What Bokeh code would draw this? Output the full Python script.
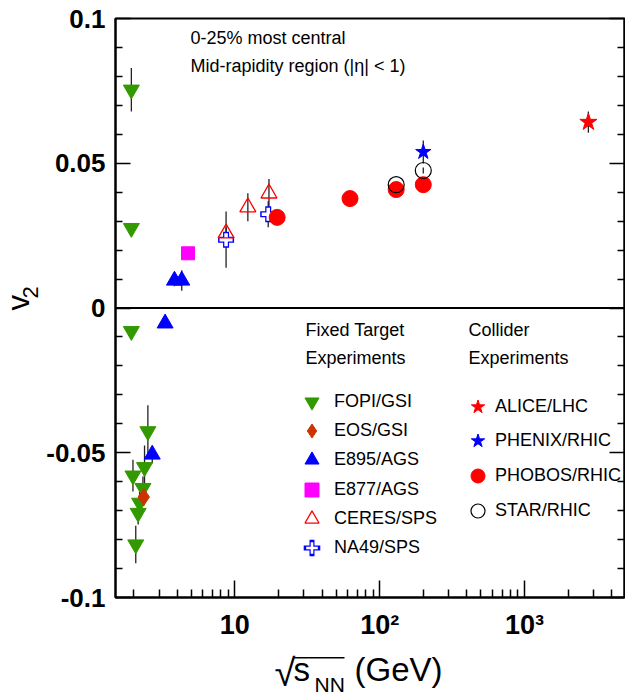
import math
from bokeh.plotting import figure
from bokeh.layouts import row, column
from bokeh.models import (Range1d, LinearAxis, FixedTicker, Span, Label, Legend,
                          LegendItem, BoxAnnotation, CustomLabelingPolicy)
from bokeh.embed import file_html
from bokeh.resources import INLINE

# ---------------- data ----------------
fopi_x = [1.93, 1.93, 1.93, 2.51, 1.98, 2.38, 2.32, 2.20, 2.15, 2.07]
fopi_y = [0.0754, 0.0276, -0.0080, -0.0426, -0.0579, -0.0550, -0.0622, -0.0673, -0.0708, -0.0817]
fopi_e = [0.0075, 0.0010, 0.0010, 0.0090, 0.0055, 0.0075, 0.0040, 0.0040, 0.0040, 0.0065]

eos_x = [2.35]
eos_y = [-0.0653]
eos_e = [0.0030]

e895_x = [2.69, 3.30, 3.83, 4.30]
e895_y = [-0.0506, -0.0053, 0.0095, 0.0095]
e895_e = [0.0030, 0.0015, 0.0020, 0.0035]

e877_x = [4.75]
e877_y = [0.0189]
e877_e = [0.0010]

ceres_x = [8.7, 12.3, 17.2]
ceres_y = [0.0258, 0.0348, 0.0396]
ceres_e = [0.0020, 0.0048, 0.0050]

na49_x = [8.7, 17.0]
na49_y = [0.0236, 0.0324]
na49_e = [0.0097, 0.0045]

phobos_x = [19.6, 62.4, 130.0, 200.0]
phobos_y = [0.0313, 0.0378, 0.0409, 0.0426]
phobos_e = [0.0020, 0.0015, 0.0015, 0.0015]

star_x = [130.0, 200.0]
star_y = [0.0426, 0.0475]
star_e = [0.0010, 0.0010]

phenix_x = [200.0]
phenix_y = [0.0539]
phenix_e = [0.0040]

alice_x = [2760.0]
alice_y = [0.0642]
alice_e = [0.0037]

x_major = [10, 100, 1000]
x_minor = [2, 3, 4, 5, 6, 7, 8, 9, 20, 30, 40, 50, 60, 70, 80, 90,
           200, 300, 400, 500, 600, 700, 800, 900, 2000, 3000, 4000]
x_labels = ["10", "10\u00b2", "10\u00b3"]
y_major = [-0.1, -0.05, 0.0, 0.05, 0.1]
y_minor = [-0.09, -0.08, -0.07, -0.06, -0.04, -0.03, -0.02, -0.01,
           0.01, 0.02, 0.03, 0.04, 0.06, 0.07, 0.08, 0.09]
y_labels = ["-0.1", "-0.05", "0", "0.05", "0.1"]

fixed_names = ["FOPI/GSI", "EOS/GSI", "E895/AGS", "E877/AGS", "CERES/SPS", "NA49/SPS"]
collider_names = ["ALICE/LHC", "PHENIX/RHIC", "PHOBOS/RHIC", "STAR/RHIC"]

GREEN = "#339900"
EOSC = "#cc3300"
FONT = "Liberation Sans"

# ---------------- main figure ----------------
p = figure(width=582, height=648, x_axis_type="log",
           x_range=Range1d(1.5, 4900), y_range=Range1d(-0.1, 0.1),
           output_backend="svg", toolbar_location=None,
           min_border_left=70, min_border_right=1,
           min_border_top=18, min_border_bottom=51)
p.background_fill_color = "white"
p.border_fill_color = "white"
p.outline_line_color = "black"
p.outline_line_width = 2
p.xgrid.visible = False
p.ygrid.visible = False

xa = p.xaxis[0]
xa.ticker = FixedTicker(ticks=x_major, minor_ticks=x_minor)
xa.major_label_overrides = {float(t): l for t, l in zip(x_major, x_labels)}
xa.major_tick_in = 17
xa.major_tick_out = 0
xa.minor_tick_in = 8
xa.minor_tick_out = 0
xa.major_tick_line_width = 1.5
xa.minor_tick_line_width = 1.5
xa.axis_line_width = 2
xa.major_label_text_font = FONT
xa.major_label_text_font_style = "bold"
xa.major_label_text_font_size = "27px"
xa.major_label_text_color = "black"
xa.major_label_standoff = 12

ya = p.yaxis[0]
ya.ticker = FixedTicker(ticks=y_major, minor_ticks=y_minor)
ya.major_label_overrides = {t: l for t, l in zip(y_major, y_labels)}
ya.major_tick_in = 15
ya.major_tick_out = 0
ya.minor_tick_in = 7
ya.minor_tick_out = 0
ya.major_tick_line_width = 1.5
ya.minor_tick_line_width = 1.5
ya.axis_line_width = 2
ya.major_label_text_font = FONT
ya.major_label_text_font_style = "bold"
ya.major_label_text_font_size = "26px"
ya.major_label_text_color = "black"
ya.major_label_standoff = 10

# mirrored ticks on the right side, without labels
ra = LinearAxis(ticker=FixedTicker(ticks=y_major, minor_ticks=y_minor),
                major_tick_in=15, major_tick_out=0, minor_tick_in=7, minor_tick_out=0,
                major_tick_line_width=1.5, minor_tick_line_width=1.5,
                axis_line_width=2, major_label_text_font_size="0px",
                major_label_standoff=0,
                major_label_policy=CustomLabelingPolicy(
                    code="for (const i of indices) indices.unset(i)"))
p.add_layout(ra, "right")

p.add_layout(Span(location=0, dimension="width", line_color="black", line_width=2))


def errbars(xs, ys, es):
    p.segment(x0=xs, y0=[y - e for y, e in zip(ys, es)],
              x1=xs, y1=[y + e for y, e in zip(ys, es)],
              line_color="#222222", line_width=1.3)


for xs, ys, es in [(fopi_x, fopi_y, fopi_e), (eos_x, eos_y, eos_e), (e895_x, e895_y, e895_e),
                   (e877_x, e877_y, e877_e), (ceres_x, ceres_y, ceres_e), (na49_x, na49_y, na49_e),
                   (phobos_x, phobos_y, phobos_e), (star_x, star_y, star_e),
                   (phenix_x, phenix_y, phenix_e), (alice_x, alice_y, alice_e)]:
    errbars(xs, ys, es)

r_fopi = p.scatter(fopi_x, fopi_y, marker="inverted_triangle", size=16,
                   fill_color=GREEN, line_color=GREEN)
r_eos = p.scatter(eos_x, eos_y, marker="diamond", size=17, fill_color=EOSC, line_color=EOSC)
r_e895 = p.scatter(e895_x, e895_y, marker="triangle", size=16, fill_color="blue", line_color="blue")
r_e877 = p.scatter(e877_x, e877_y, marker="square", size=13, fill_color="#ff00ff", line_color="#ff00ff")
p.scatter(na49_x, na49_y, marker="cross", size=16, line_color="blue", line_width=6)
p.scatter(na49_x, na49_y, marker="cross", size=13, line_color="white", line_width=3.5)
# legend-only glyphs for the open cross (not drawn in the plot: NaN position)
nan_pt = [math.nan]
r_na49a = p.scatter(nan_pt, nan_pt, marker="cross", size=10, line_color="blue", line_width=5,
                    line_cap="square")
r_na49b = p.scatter(nan_pt, nan_pt, marker="cross", size=10, line_color="white", line_width=2.6,
                    line_cap="butt")
r_ceres = p.scatter(ceres_x, ceres_y, marker="triangle", size=16, fill_color=None,
                    line_color="red", line_width=1.3)
r_phobos = p.scatter(phobos_x, phobos_y, marker="circle", size=16, fill_color="red", line_color="red")
r_star = p.scatter(star_x, star_y, marker="circle", size=16, fill_color=None,
                   line_color="black", line_width=1.2)
r_phenix = p.scatter(phenix_x, phenix_y, marker="star", size=16, fill_color="blue", line_color="blue")
r_alice = p.scatter(alice_x, alice_y, marker="star", size=18, fill_color="red", line_color="red")

leg_common = dict(orientation="vertical", padding=0, margin=0,
                  border_line_alpha=0, background_fill_alpha=0,
                  label_text_font=FONT, label_text_font_size="18px", label_text_color="black")

fixed_rs = [[r_fopi], [r_eos], [r_e895], [r_e877], [r_ceres], [r_na49a, r_na49b]]
collider_rs = [[r_alice], [r_phenix], [r_phobos], [r_star]]

for i, (name, rs) in enumerate(zip(fixed_names, fixed_rs)):
    gl = 29 if i == 5 else 35
    d = (35 - gl) // 2
    p.add_layout(Legend(items=[LegendItem(label=name, renderers=rs)],
                        location=(179 + d, 177.8 - 29.1 * i + d),
                        label_standoff=5 + d, glyph_width=gl, glyph_height=gl,
                        label_height=gl, **leg_common))
for i, (name, rs) in enumerate(zip(collider_names, collider_rs)):
    p.add_layout(Legend(items=[LegendItem(label=name, renderers=rs)],
                        location=(345, 173.5 - 34.9 * i), label_standoff=0,
                        glyph_width=35, glyph_height=35, label_height=35, **leg_common))


def lab(fig, x, y, text, size, angle=0.0, style="normal"):
    fig.add_layout(Label(x=x, y=y, x_units="screen", y_units="screen", text=text,
                         text_font=FONT, text_font_size=size, text_font_style=style,
                         text_color="black", text_baseline="middle", text_align="left",
                         angle=angle))


lab(p, 75, 560, "0-25% most central", "18px")
lab(p, 75, 532, "Mid-rapidity region (|\u03b7| < 1)", "18px")
lab(p, 190, 268, "Fixed Target", "18px")
lab(p, 190, 240, "Experiments", "18px")
lab(p, 353, 268, "Collider", "18px")
lab(p, 353, 240, "Experiments", "18px")


def blank(w, h):
    f = figure(width=w, height=h, output_backend="svg", toolbar_location=None,
               min_border=0, x_range=Range1d(0, 1), y_range=Range1d(0, 1))
    f.axis.visible = False
    f.grid.visible = False
    f.outline_line_color = None
    f.background_fill_color = "white"
    f.border_fill_color = "white"
    return f


# y-axis title v_2 (rotated)
left = blank(43, 696)
lab(left, 18, 386, "v", "31px", angle=math.pi / 2)
lab(left, 30, 398, "2", "22px", angle=math.pi / 2)

# x-axis title sqrt(s_NN) (GeV)  (frame of this strip is aligned with the main frame)
bottom = blank(582, 48)
lab(bottom, 159, 24, "\u221a", "38px")
lab(bottom, 178, 27, "s", "33px")
lab(bottom, 199, 12.5, "NN", "21px")
lab(bottom, 239, 27, "(GeV)", "33px")
bottom.add_layout(BoxAnnotation(left=178, right=229, top=39.5, bottom=38,
                                left_units="screen", right_units="screen",
                                top_units="screen", bottom_units="screen",
                                fill_color="black", fill_alpha=1, line_alpha=0))

layout = row(left, column(p, bottom, spacing=0), spacing=0)
open("out.html", "w").write(file_html(layout, INLINE))
